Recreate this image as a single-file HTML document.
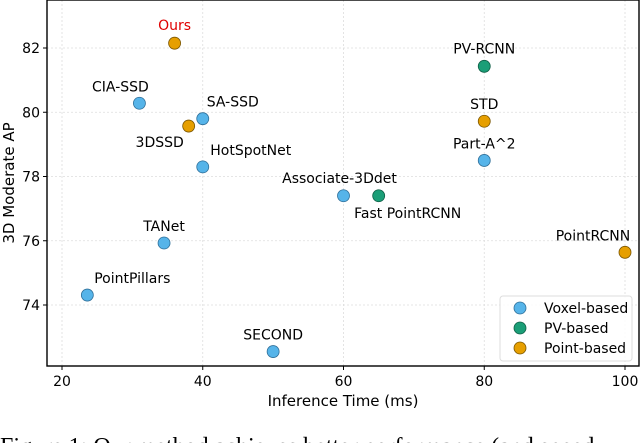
<!DOCTYPE html>
<html><head><meta charset="utf-8"><style>
body{margin:0;background:#fff;}
svg{display:block;font-family:"DejaVu Sans","Liberation Sans",sans-serif;}
</style></head><body>
<svg id="chart" width="640" height="443"></svg>
<script>
const names=["Ours","CIA-SSD","SA-SSD","3DSSD","HotSpotNet","Associate-3Ddet","Fast PointRCNN","TANet","PointPillars","SECOND","PV-RCNN","STD","Part-A^2","PointRCNN"];
const times=[36,31,40,38,40,60,65,34.5,23.6,50,80,80,80,100];
const aps=[82.15,80.28,79.8,79.57,78.3,77.4,77.4,75.93,74.31,72.55,81.43,79.72,78.5,75.64];
const kinds=["point","voxel","voxel","point","voxel","voxel","pv","voxel","voxel","voxel","pv","point","voxel","point"];
const xTicks=[20,40,60,80,100];
const yTicks=[74,76,78,80,82];
const labelOff=[[0,-13],[-19,-12],[30,-12],[-29,21],[48,-12],[-4,-13],[29,22],[0,-12],[45,-12],[0,-12],[0,-13],[0,-12],[0,-12],[-32,-12]];
const NS="http://www.w3.org/2000/svg";
const svg=document.getElementById('chart');
const L=47,R=639,T=0,B=366;
const xs=v=>62+(v-20)*(625-62)/80;
const ys=v=>48+(82-v)*(305-48)/8;
const col={voxel:["#56B4E9","#2f6f99"],pv:["#1b9e77","#0e5e45"],point:["#E69F00","#7a5500"]};
function mk(t,a,p){const e=document.createElementNS(NS,t);for(const k in a)e.setAttribute(k,a[k]);(p||svg).appendChild(e);return e;}
xTicks.forEach(t=>{const g=mk('line',{x1:xs(t),x2:xs(t),y1:T,y2:B,stroke:"#ddd","stroke-dasharray":"2,2","stroke-width":0.8});

const tk=mk('line',{x1:xs(t),x2:xs(t),y1:B,y2:B+4,stroke:"#000"});
const tx=mk('text',{x:xs(t),y:B+20,"text-anchor":"middle","font-size":14});tx.textContent=t;
});
yTicks.forEach(t=>{const g=mk('line',{x1:L,x2:R,y1:ys(t),y2:ys(t),stroke:"#ddd","stroke-dasharray":"2,2","stroke-width":0.8});

const tk=mk('line',{x1:L-4,x2:L,y1:ys(t),y2:ys(t),stroke:"#000"});
const tx=mk('text',{x:L-7,y:ys(t)+5,"text-anchor":"end","font-size":14});tx.textContent=t;
});
const fr=mk('rect',{x:L,y:T,width:R-L,height:B-T,fill:"none",stroke:"#000","stroke-width":1.4});

names.forEach((n,i)=>{const c=col[kinds[i]];
const p=mk('circle',{cx:xs(times[i]),cy:ys(aps[i]),r:6,fill:c[0],stroke:c[1],"stroke-width":0.8});

const t=mk('text',{x:xs(times[i])+labelOff[i][0],y:ys(aps[i])+labelOff[i][1],"text-anchor":"middle","font-size":14,fill:n==="Ours"?"#e00000":"#000"});
t.textContent=n;});
const xt=mk('text',{x:343,y:406,"text-anchor":"middle","font-size":15});xt.textContent="Inference Time (ms)";

const yt=mk('text',{x:0,y:0,"text-anchor":"middle","font-size":15,transform:"translate(14,183) rotate(-90)"});yt.textContent="3D Moderate AP";

const lg=mk('g',{});
mk('rect',{x:500,y:296,width:132,height:65,rx:3,fill:"#fff","fill-opacity":0.85,stroke:"#ddd"},lg);
[["voxel","Voxel-based"],["pv","PV-based"],["point","Point-based"]].forEach((e,i)=>{
const c=mk('circle',{cx:520,cy:308+i*20,r:6,fill:col[e[0]][0],stroke:col[e[0]][1],"stroke-width":0.8},lg);

const t=mk('text',{x:544,y:313+i*20,"font-size":14},lg);t.textContent=e[1];
});
const cap=mk('text',{x:0,y:454,"font-size":24,"font-family":"Liberation Serif, serif"});
cap.textContent="Figure 1: Our method achieves better performance (and speed";

</script>
</body></html>
